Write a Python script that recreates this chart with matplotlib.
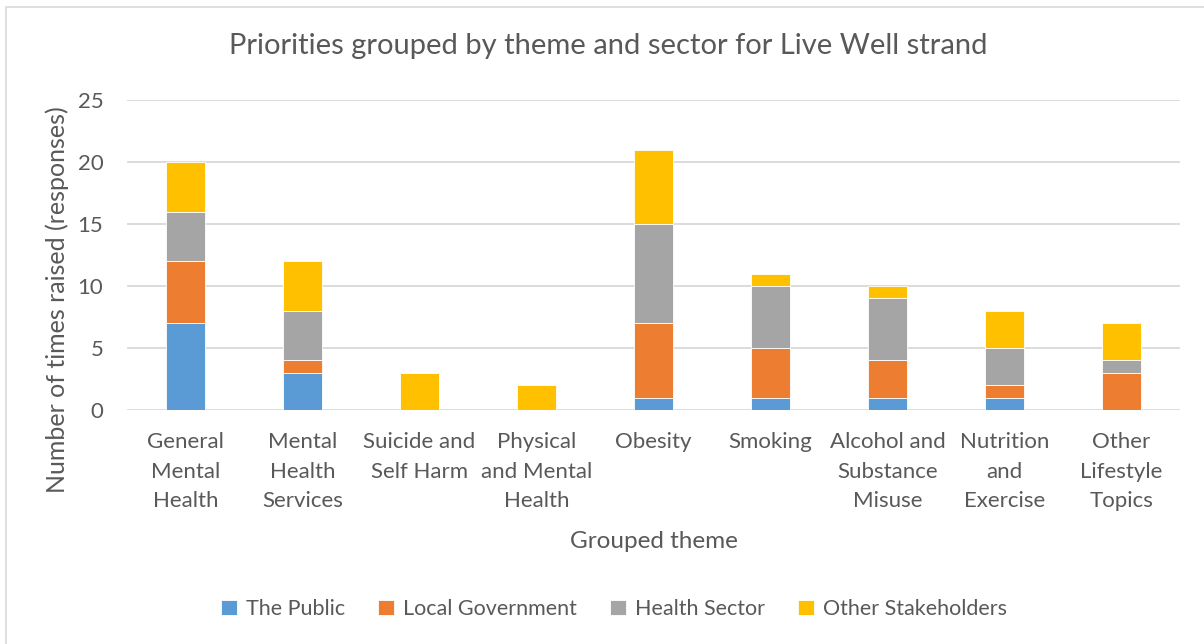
import matplotlib

matplotlib.use("Agg")
import matplotlib.pyplot as plt
import numpy as np
from matplotlib.patches import Rectangle

themes = [
    "General\nMental\nHealth",
    "Mental\nHealth\nServices",
    "Suicide and\nSelf Harm",
    "Physical\nand Mental\nHealth",
    "Obesity",
    "Smoking",
    "Alcohol and\nSubstance\nMisuse",
    "Nutrition\nand\nExercise",
    "Other\nLifestyle\nTopics",
]
sectors = ["The Public", "Local Government", "Health Sector", "Other Stakeholders"]
the_public = [7, 3, 0, 0, 1, 1, 1, 1, 0]
local_government = [5, 1, 0, 0, 6, 4, 3, 1, 3]
health_sector = [4, 4, 0, 0, 8, 5, 5, 3, 1]
other_stakeholders = [4, 4, 3, 2, 6, 1, 1, 3, 3]
colors = ["#5B9BD5", "#ED7D31", "#A5A5A5", "#FFC000"]

TEXT = "#595959"
plt.rcParams["font.family"] = ["Lato", "DejaVu Sans"]

fig = plt.figure(figsize=(12.04, 6.44), dpi=100)
ax = fig.add_axes([127 / 1204, 1 - 410 / 644, 1053 / 1204, 310 / 644])

x = np.arange(len(themes))
bottom = np.zeros(len(themes))
for name, vals, c in zip(sectors, [the_public, local_government, health_sector, other_stakeholders], colors):
    ax.bar(x, vals, width=0.33, bottom=bottom, color=c, edgecolor="white",
           linewidth=0.6, label=name, zorder=3)
    bottom += np.array(vals)

ax.set_xlim(-0.5, len(themes) - 0.5)
ax.set_ylim(0, 25)
ax.set_yticks(range(0, 26, 5))
ax.grid(axis="y", color="#D9D9D9", linewidth=1.3, zorder=0)
ax.set_axisbelow(True)
for s in ax.spines.values():
    s.set_visible(False)
ax.tick_params(length=0, colors=TEXT, labelsize=16)
ax.tick_params(axis="y", pad=17)
ax.tick_params(axis="x", pad=16)
ax.set_xticks(x)
ax.set_xticklabels(themes, linespacing=1.6, va="top")

fig.text(0.505, 1 - 46 / 644, "Priorities grouped by theme and sector for Live Well strand",
         fontsize=21, color=TEXT, ha="center", va="center")
ax.set_xlabel("Grouped theme", fontsize=17.5, color=TEXT, labelpad=14)
fig.text(57 / 1204, 1 - 300 / 644, "Number of times raised (responses)", rotation=90,
         fontsize=18, color=TEXT, ha="center", va="center")

fig.legend(loc="center", bbox_to_anchor=(0.51, 1 - 609 / 644), ncol=4, frameon=False,
           fontsize=15.5, labelcolor=TEXT, handlelength=0.75, handleheight=0.75,
           handletextpad=0.4, columnspacing=1.55)

# light outline of the chart area
fig.patches.append(Rectangle((6 / 1204, -0.1), 1.2, 1 - 7 / 644 + 0.1,
                             transform=fig.transFigure, fill=False,
                             edgecolor="#D9D9D9", linewidth=1.2))

fig.savefig("out.png", dpi=100)
